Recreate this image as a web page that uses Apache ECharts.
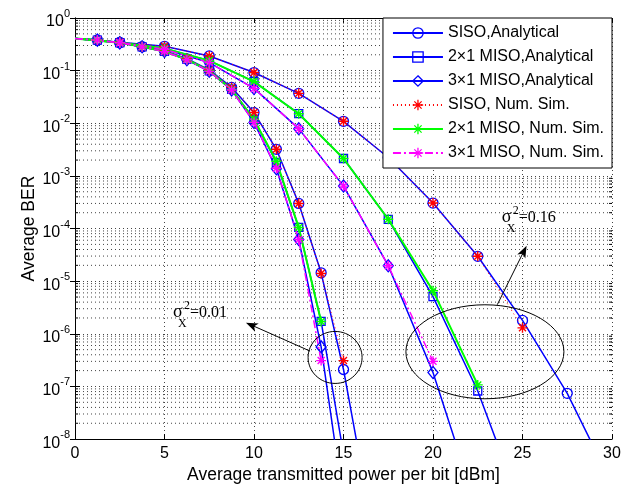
<!DOCTYPE html>
<html><head><meta charset="utf-8">
<script src="https://cdn.jsdelivr.net/npm/echarts@6/dist/echarts.min.js"></script>
<style>html,body{margin:0;padding:0;background:#fff}#c{width:636px;height:489px}</style>
</head><body><div id="c"></div>
<script>
// ---------- data ----------
// family sigma_X^2 = 0.01 : points every 1.25 dBm
const xA = [0, 1.25, 2.5, 3.75, 5, 6.25, 7.5, 8.75, 10, 11.25, 12.5, 13.75, 15, 16.25];
const sisoAnaA  = [0.41, 0.38, 0.34, 0.285, 0.24, 0.168, 0.103, 0.048, 0.016, 0.0032, 3.0e-4, 1.44e-5, 2.1e-7, 1.0e-9];
const miso2AnaA = [0.41, 0.38, 0.34, 0.283, 0.232, 0.163, 0.099, 0.044, 0.0118, 0.0018, 1.05e-4, 1.72e-6, 5.2e-9];
const miso3AnaA = [0.41, 0.38, 0.34, 0.283, 0.23, 0.161, 0.097, 0.043, 0.0104, 0.00137, 6.2e-5, 5.65e-7, 6.2e-10];
const sisoSimA  = [0.41, 0.38, 0.34, 0.285, 0.24, 0.168, 0.103, 0.048, 0.016, 0.0032, 3.0e-4, 1.4e-5, 3.1e-7];
const miso2SimA = [0.41, 0.38, 0.34, 0.283, 0.232, 0.163, 0.099, 0.044, 0.0118, 0.0019, 1.05e-4, 1.72e-6];
const miso3SimA = [0.41, 0.38, 0.34, 0.283, 0.23, 0.161, 0.097, 0.043, 0.0104, 0.0014, 6.2e-5, 3.1e-7];
// family sigma_X^2 = 0.16 : points every 2.5 dBm
const xB = [0, 2.5, 5, 7.5, 10, 12.5, 15, 17.5, 20, 22.5, 25, 27.5, 30];
const sisoAnaB  = [0.41, 0.345, 0.29, 0.19, 0.092, 0.037, 0.0109, 0.00224, 3.05e-4, 2.97e-5, 1.8e-6, 7.4e-8, 1.4e-9];
const miso2AnaB = [0.41, 0.34, 0.265, 0.155, 0.062, 0.0152, 0.00214, 1.5e-4, 5.1e-6, 8.2e-8, 4.3e-10];
const miso3AnaB = [0.41, 0.34, 0.255, 0.142, 0.046, 0.0079, 6.4e-4, 1.97e-5, 1.85e-7, 4.3e-10];
const sisoSimB  = [0.41, 0.345, 0.29, 0.19, 0.092, 0.037, 0.0109, 0.00224, 3.05e-4, 2.97e-5, 1.3e-6];
const miso2SimB = [0.41, 0.34, 0.265, 0.155, 0.062, 0.0152, 0.00214, 1.5e-4, 6.6e-6, 1.07e-7];
const miso3SimB = [0.41, 0.34, 0.255, 0.142, 0.046, 0.0079, 6.4e-4, 1.97e-5, 3.0e-7];

const seriesNames = ['SISO,Analytical', '2\u00d71 MISO,Analytical', '3\u00d71 MISO,Analytical',
                     'SISO, Num. Sim.', '2\u00d71 MISO, Num. Sim.', '3\u00d71 MISO, Num. Sim.'];
const xTicks = [0, 5, 10, 15, 20, 25, 30];
const yExponents = [0, -1, -2, -3, -4, -5, -6, -7, -8];
const minorMultipliers = [2, 3, 4, 5, 6, 7, 8, 9];
// annotations, in data coordinates
const ann1 = {label: '0.01', ellipse: [14.53, 3.56e-7], arrowFrom: [13.13, 4.7e-7], arrowTo: [9.55, 1.63e-6], text: [5.47, 1.9e-6]};
const ann2 = {label: '0.16', ellipse: [22.9, 4.56e-7], arrowFrom: [23.59, 3.57e-6], arrowTo: [25.23, 4.73e-5], text: [23.84, 1.22e-4]};

// ---------- chart ----------
const FONT = 'Liberation Sans, Arial, sans-serif';
const SERIF = 'Liberation Serif, Times New Roman, serif';
const BLUE = '#0000ff';
const STAR = 'path://M5,0L5,10M0,5L10,5M1.5,1.5L8.5,8.5M1.5,8.5L8.5,1.5';

function toData(xs, ys) {
  return ys.map((y, i) => i === 0 ? {value: [xs[i], y], symbol: 'none'} : [xs[i], y]);
}
function analytic(name, xs, ys, symbol, size) {
  return {
    name, type: 'line', data: toData(xs, ys), symbol, symbolSize: size,
    lineStyle: {color: BLUE, width: 1.5},
    itemStyle: {color: 'rgba(0,0,0,0)', borderColor: BLUE, borderWidth: 1.3},
    emphasis: {disabled: true}, animation: false, z: 2
  };
}
function sim(name, xs, ys, color, type, width) {
  return {
    name, type: 'line', data: toData(xs, ys), symbol: STAR, symbolSize: 10,
    lineStyle: {color, width, type},
    itemStyle: {color: 'rgba(0,0,0,0)', borderColor: color, borderWidth: 1.4},
    emphasis: {disabled: true}, animation: false, z: 3
  };
}

const minorVals = [];
for (let e = -8; e < 0; e++) minorMultipliers.forEach(m => minorVals.push([0, m * Math.pow(10, e)]));

const chart = echarts.init(document.getElementById('c'), null, {renderer: 'canvas'});
const gridStyle = {type: [1, 3], color: '#444', width: 1};

const option = {
  backgroundColor: '#fff',
  animation: false,
  grid: {left: 75, right: 24, top: 18, bottom: 48},
  legend: {
    data: seriesNames, orient: 'vertical', right: 24, top: 18, z: 20,
    backgroundColor: '#fff', borderColor: '#000', borderWidth: 1, borderRadius: 0,
    padding: [7, 8, 7, 9], itemGap: 8, itemWidth: 50, itemHeight: 13,
    selectedMode: false,
    itemStyle: {borderWidth: 1.3},
    textStyle: {fontFamily: FONT, fontSize: 16, color: '#000', lineHeight: 16}
  },
  xAxis: [{
    type: 'value', min: 0, max: 30, interval: 5,
    name: 'Average transmitted power per bit [dBm]', nameLocation: 'middle', nameGap: 25,
    nameTextStyle: {fontFamily: FONT, fontSize: 17.5, color: '#000'},
    axisLine: {lineStyle: {color: '#000', width: 1}},
    axisTick: {inside: true, length: 5, lineStyle: {color: '#000'}},
    axisLabel: {fontFamily: FONT, fontSize: 16, color: '#000', margin: 6,
      formatter: v => xTicks.includes(v) ? String(v) : ''},
    splitLine: {show: true, lineStyle: gridStyle}
  }, {
    type: 'value', min: 0, max: 30, interval: 5, position: 'top',
    axisLine: {lineStyle: {color: '#000', width: 1}},
    axisTick: {inside: true, length: 5, lineStyle: {color: '#000'}},
    axisLabel: {show: false}, splitLine: {show: false}
  }],
  yAxis: [{
    type: 'log', logBase: 10, min: 1e-8, max: 1, splitNumber: 8,
    name: 'Average BER', nameLocation: 'middle', nameGap: 46, nameRotate: 90,
    nameMoveOverlap: false,
    nameTextStyle: {fontFamily: FONT, fontSize: 17.5, color: '#000', verticalAlign: 'middle'},
    axisLine: {show: true, lineStyle: {color: '#000', width: 1}},
    axisTick: {inside: true, length: 5, lineStyle: {color: '#000'}},
    axisLabel: {
      margin: 5, color: '#000',
      formatter: v => {
        const e = Math.round(Math.log10(v));
        return yExponents.includes(e) ? '{b|10}{s|' + e + '}' : '';
      },
      rich: {
        b: {fontFamily: FONT, fontSize: 16, color: '#000', padding: [8, 0, 0, 0]},
        s: {fontFamily: FONT, fontSize: 11, color: '#000', padding: [0, 0, 8, 0]}
      }
    },
    splitLine: {show: true, lineStyle: gridStyle}
  }, {
    type: 'log', logBase: 10, min: 1e-8, max: 1, splitNumber: 8, position: 'right',
    axisLine: {show: true, lineStyle: {color: '#000', width: 1}},
    axisTick: {inside: true, length: 5, lineStyle: {color: '#000'}},
    axisLabel: {show: false}, splitLine: {show: false}
  }],
  series: [
    {
      name: 'minor', type: 'custom', data: minorVals, encode: {x: 0, y: 1},
      silent: true, z: 1, animation: false, clip: true,
      renderItem: (params, api) => {
        const y = api.coord([0, api.value(1)])[1];
        const cs = params.coordSys;
        return {type: 'group', children: [
          {type: 'line', shape: {x1: cs.x, y1: y, x2: cs.x + cs.width, y2: y}, style: {stroke: '#444', lineWidth: 1, lineDash: [1, 3]}},
          {type: 'line', shape: {x1: cs.x, y1: y, x2: cs.x + 3, y2: y}, style: {stroke: '#000', lineWidth: 1}},
          {type: 'line', shape: {x1: cs.x + cs.width - 3, y1: y, x2: cs.x + cs.width, y2: y}, style: {stroke: '#000', lineWidth: 1}}
        ]};
      }
    },
    analytic(seriesNames[0], xA, sisoAnaA, 'circle', 10),
    analytic(seriesNames[1], xA, miso2AnaA, 'rect', 8),
    analytic(seriesNames[2], xA, miso3AnaA, 'diamond', [10, 12]),
    analytic(seriesNames[0], xB, sisoAnaB, 'circle', 10),
    analytic(seriesNames[1], xB, miso2AnaB, 'rect', 8),
    analytic(seriesNames[2], xB, miso3AnaB, 'diamond', [10, 12]),
    sim(seriesNames[3], xA, sisoSimA, '#ff0000', [1, 3], 1),
    sim(seriesNames[3], xB, sisoSimB, '#ff0000', [1, 3], 1),
    sim(seriesNames[4], xA, miso2SimA, '#00ff00', 'solid', 2),
    sim(seriesNames[4], xB, miso2SimB, '#00ff00', 'solid', 2),
    sim(seriesNames[5], xA, miso3SimA, '#ff00ff', [8, 3, 2, 3], 1.5),
    sim(seriesNames[5], xB, miso3SimB, '#ff00ff', [8, 3, 2, 3], 1.5)
  ]
};
chart.setOption(option);

// ---------- annotations ----------
function px(p) { return chart.convertToPixel({gridIndex: 0}, p); }
function arrow(from, to) {
  const S = px(from), T = px(to);
  const dx = T[0] - S[0], dy = T[1] - S[1], len = Math.hypot(dx, dy);
  const ux = dx / len, uy = dy / len, nx = -uy, ny = ux, L = 12, W = 4.5;
  const bx = T[0] - ux * L, by = T[1] - uy * L;
  return [
    {type: 'line', shape: {x1: S[0], y1: S[1], x2: T[0] - ux * L * 0.6, y2: T[1] - uy * L * 0.6}, style: {stroke: '#000', lineWidth: 1}, z: 50},
    {type: 'polygon', shape: {points: [[T[0], T[1]], [bx + nx * W, by + ny * W], [T[0] - ux * L * 0.75, T[1] - uy * L * 0.75], [bx - nx * W, by - ny * W]]}, style: {fill: '#000'}, z: 50}
  ];
}
function sigmaText(anchor, label) {
  const [x, y] = px(anchor);
  const st = (t, dx, dy, fs) => ({type: 'text', x: x + dx, y: y + dy, z: 50,
    style: {text: t, fill: '#000', font: fs + 'px ' + SERIF, textVerticalAlign: 'bottom', verticalAlign: 'bottom'}});
  return [st('\u03c3', 0, 2, 18), st('2', 11, -7, 12), st('X', 5, 11, 12), st('=' + label, 17, 2, 16)];
}
function ellipse(center, rx, ry) {
  const c = px(center);
  return {type: 'ellipse', shape: {cx: c[0], cy: c[1], rx, ry}, style: {fill: 'none', stroke: '#000', lineWidth: 1}, z: 50};
}
const graphics = [].concat(
  ellipse(ann1.ellipse, 27, 26), arrow(ann1.arrowFrom, ann1.arrowTo), sigmaText(ann1.text, ann1.label),
  ellipse(ann2.ellipse, 79, 47), arrow(ann2.arrowFrom, ann2.arrowTo), sigmaText(ann2.text, ann2.label)
);
chart.setOption({graphic: graphics});
</script>
</body></html>
